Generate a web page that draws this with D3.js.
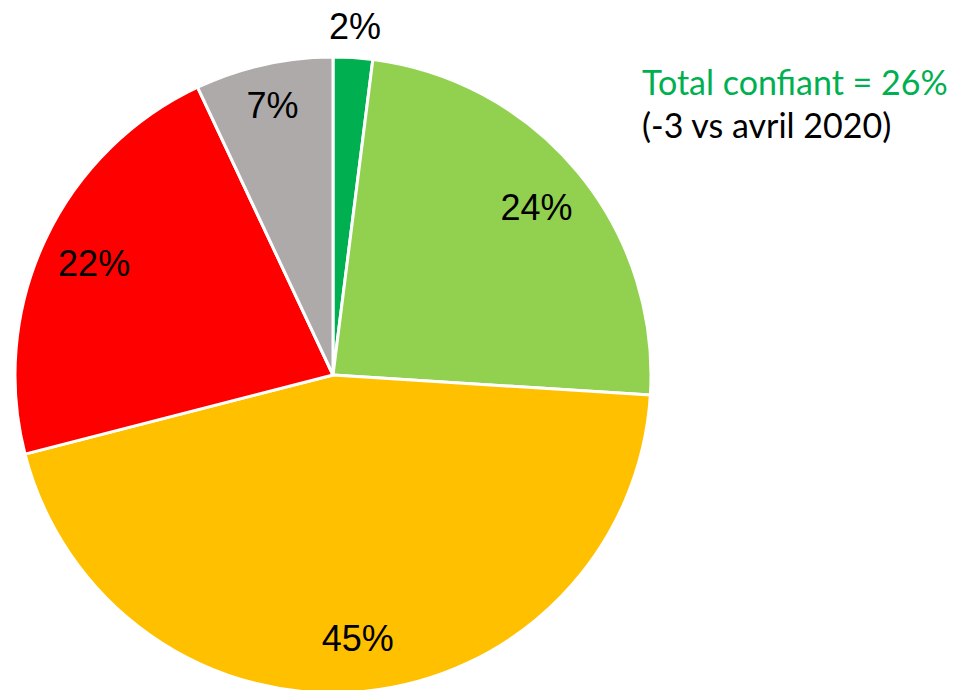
<!DOCTYPE html>
<html><head><meta charset="utf-8">
<script src="https://cdn.jsdelivr.net/npm/d3@7"></script>
<style>body{margin:0;background:#fff;}svg{display:block;}</style>
</head><body>
<svg id="chart" width="953" height="690"></svg>
<script>
const categories = ["Tout à fait confiant", "Plutôt confiant", "Plutôt pas confiant", "Pas du tout confiant", "Ne sait pas"];
const values = [2, 24, 45, 22, 7];
const labels = ["2%", "24%", "45%", "22%", "7%"];
const colors = ["#00B050", "#92D050", "#FFC000", "#FF0000", "#AEAAAA"];
const annotationLines = ["Total confiant = 26%", "(-3 vs avril 2020)"];

const svg = d3.select("#chart");
const cx = 333, cy = 375, R = 318;
const g = svg.append("g").attr("transform", `translate(${cx},${cy})`);

const pie = d3.pie().sort(null).value(d => d)(values);
const arc = d3.arc().innerRadius(0).outerRadius(R);

g.selectAll("path").data(pie).enter().append("path")
  .attr("d", arc)
  .attr("fill", (d, i) => colors[i])
  .attr("stroke", "#fff").attr("stroke-width", 3).attr("stroke-linejoin", "round");

const inner = d3.arc().innerRadius(264).outerRadius(264);
const mid = d3.arc().innerRadius(277).outerRadius(277);
const outer = d3.arc().innerRadius(350).outerRadius(350);
g.selectAll("text.lbl").data(pie).enter().append("text")
  .attr("class", "lbl")
  .attr("transform", (d, i) => {
    const c = (values[i] < 5 ? outer : (values[i] < 10 ? mid : inner)).centroid(d);
    return `translate(${c[0]},${c[1]})`;
  })
  .attr("text-anchor", "middle").attr("dy", "0.36em")
  .style("font-family", "'Liberation Sans', Arial, sans-serif")
  .style("font-size", "36px").style("fill", "#000")
  .text((d, i) => labels[i]);

const ann = svg.append("text")
  .style("font-family", "Lato, 'Open Sans', sans-serif").style("font-size", "34px");
ann.append("tspan").attr("x", 642).attr("y", 95).style("fill", "#00B050").text(annotationLines[0]);
ann.append("tspan").attr("x", 642).attr("y", 138).style("fill", "#000").text(annotationLines[1]);
</script>
</body></html>
